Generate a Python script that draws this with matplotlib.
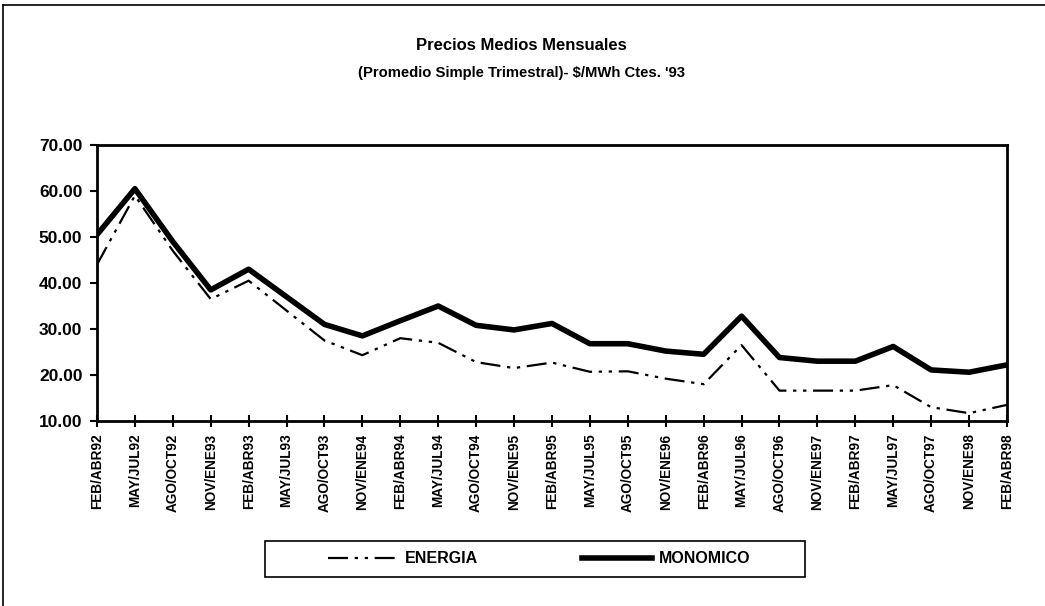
import matplotlib
matplotlib.use("Agg")
import matplotlib.pyplot as plt
from matplotlib.lines import Line2D
from matplotlib.patches import Rectangle

periodos = ["FEB/ABR92", "MAY/JUL92", "AGO/OCT92", "NOV/ENE93", "FEB/ABR93",
            "MAY/JUL93", "AGO/OCT93", "NOV/ENE94", "FEB/ABR94", "MAY/JUL94",
            "AGO/OCT94", "NOV/ENE95", "FEB/ABR95", "MAY/JUL95", "AGO/OCT95",
            "NOV/ENE96", "FEB/ABR96", "MAY/JUL96", "AGO/OCT96", "NOV/ENE97",
            "FEB/ABR97", "MAY/JUL97", "AGO/OCT97", "NOV/ENE98", "FEB/ABR98"]
energia = [44.0, 59.0, 47.0, 36.5, 40.5, 34.0, 27.5, 24.3, 28.0, 27.0,
           22.8, 21.5, 22.7, 20.7, 20.8, 19.2, 18.0, 26.5, 16.6, 16.6,
           16.6, 17.8, 13.0, 11.7, 13.5]
monomico = [50.5, 60.5, 49.0, 38.5, 43.0, 37.0, 31.0, 28.5, 31.8, 35.0,
            30.8, 29.8, 31.2, 26.8, 26.8, 25.2, 24.5, 32.8, 23.8, 23.0,
            23.0, 26.2, 21.1, 20.6, 22.2]
yticks = [10, 20, 30, 40, 50, 60, 70]

plt.rcParams['font.family'] = ['Liberation Sans', 'DejaVu Sans']

fig = plt.figure(figsize=(10.45, 6.06), dpi=100)
ax = fig.add_axes([0.0928, 0.3053, 0.8708, 0.4554])

x = list(range(len(periodos)))
ax.plot(x, energia, color='black', lw=1.6, ls=(0, (9, 3, 1.5, 3, 1.5, 3)), label='ENERGIA')
ax.plot(x, monomico, color='black', lw=4, label='MONOMICO')

ax.set_xlim(0, len(periodos) - 1)
ax.set_ylim(10, 70)
ax.set_yticks(yticks)
ax.set_yticklabels([f"{v:.2f}" for v in yticks], fontsize=12.5, fontweight='bold')
ax.set_xticks(x)
ax.set_xticklabels(periodos, rotation=90, fontsize=9.8, fontweight='bold')
ax.tick_params(axis='y', direction='out', length=5, width=1.5, pad=5.5)
ax.tick_params(axis='x', direction='inout', length=8, width=1.5, pad=5)
for s in ax.spines.values():
    s.set_linewidth(2)

fig.text(0.499, 0.925, "Precios Medios Mensuales", ha='center', va='center',
         fontsize=12, fontweight='bold')
fig.text(0.499, 0.879, "(Promedio Simple Trimestral)- $/MWh Ctes. '93", ha='center',
         va='center', fontsize=10.7, fontweight='bold')

# recuadro de la leyenda
fig.add_artist(Rectangle((265 / 1045, 1 - 577 / 606), 540 / 1045, 36 / 606, fill=False,
                         edgecolor='black', lw=1.2, transform=fig.transFigure))
fig.legend(loc='center', bbox_to_anchor=(0.516, 0.0776), ncol=2, frameon=False,
           handlelength=4.4, columnspacing=6.5, handletextpad=0.4,
           prop={'size': 11.5, 'weight': 'bold'})

# marco de la figura (izquierda y arriba)
fig.add_artist(Line2D([0.003, 0.003], [0.0, 0.992], color='black', lw=1.2, transform=fig.transFigure))
fig.add_artist(Line2D([0.003, 1.0], [0.992, 0.992], color='black', lw=1.2, transform=fig.transFigure))

fig.savefig("out.png", dpi=100)
